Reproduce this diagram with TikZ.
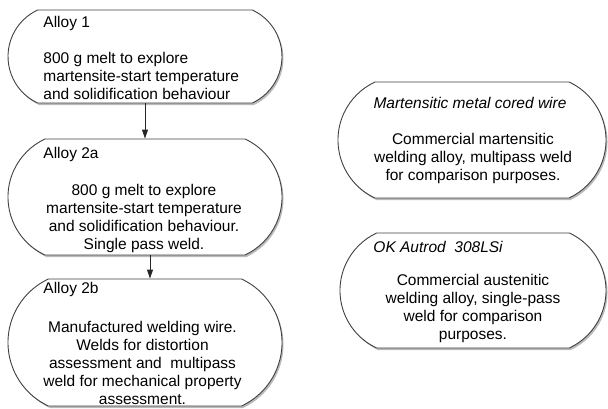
\documentclass[tikz,border=0pt]{standalone}
\usepackage{fontspec}
\setmainfont{Liberation Sans}
\usetikzlibrary{arrows.meta,%
                shapes.misc,%
                shadows}

\begin{document}
\begin{tikzpicture}[x=1pt, y=-1pt, >={Triangle[width=6pt,length=9pt]}, line width=0.9pt]
    \tikzstyle{stage}=[rounded rectangle, rounded rectangle arc length=130, draw=black!75, fill=white,
                       inner sep=0pt, minimum width=274pt,
                       drop shadow={shadow xshift=1.5pt, shadow yshift=-2pt, fill=black!45, opacity=0.6}]
    \tikzstyle{lab}=[inner sep=0pt, font=\fontsize{15.5}{18}\selectfont]
    \tikzstyle{body}=[lab, align=center, anchor=north]

    \useasboundingbox (0,0) rectangle (608,408);

    % alloys
    \node[stage, minimum height=93pt]  (a1)  at (145,56.5) {};
    \node[stage, minimum height=116pt] (a2a) at (145,197) {};
    \node[stage, minimum height=127pt] (a2b) at (145,342.5) {};

    % commercial wires
    \node[stage, minimum width=268pt, minimum height=116pt] (m1) at (472,140) {};
    \node[stage, minimum width=266pt, minimum height=115pt] (m2) at (473,290.5) {};

    \node[lab, anchor=base west] (t1)  at (43,27)  {Alloy 1};
    \node[lab, anchor=north west, align=left] (b1) at (43,51.5)
        {800 g melt to explore\\martensite-start temperature\\and solidification behaviour};

    \node[lab, anchor=base west] (t2a) at (43,158) {Alloy 2a};
    \node[body] (b2a) at (144,183.5)
        {800 g melt to explore\\martensite-start temperature\\and solidification behaviour.\\Single pass weld.};

    \node[lab, anchor=base west] (t2b) at (43,293) {Alloy 2b};
    \node[body] (b2b) at (142.5,320.5)
        {Manufactured welding wire.\\Welds for distortion\\assessment and\ \ multipass\\weld for mechanical property\\assessment.};

    \node[lab, anchor=base, font=\fontsize{15.5}{18}\selectfont\itshape] (tm1) at (470,108) {Martensitic metal cored wire};
    \node[body] (bm1) at (473,132.5)
        {Commercial martensitic\\welding alloy, multipass weld\\for comparison purposes.};

    \node[lab, anchor=base west, font=\fontsize{15.5}{18}\selectfont\itshape] (tm2) at (373,252) {OK Autrod\ \ 308LSi};
    \node[body] (bm2) at (473,273.5)
        {Commercial austenitic\\welding alloy, single-pass\\weld for comparison\\purposes.};

    \draw[->, black!85] (a1.south) -- (a2a.north);
    \draw[->, black!85] ([xshift=5pt]a2a.south) -- ([xshift=5pt]a2b.north);

\end{tikzpicture}
\end{document}
